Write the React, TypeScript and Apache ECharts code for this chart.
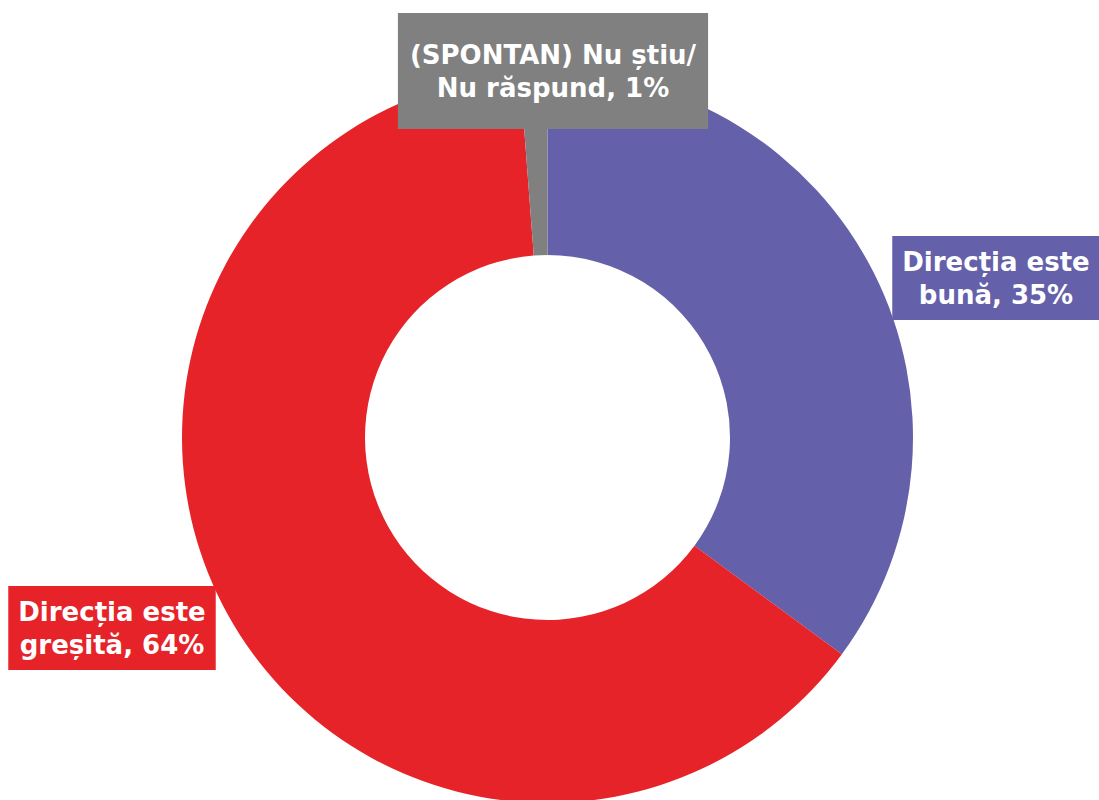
import React, { useEffect, useRef } from "react";
import * as echarts from "echarts";

const categories = [
  "Direcția este bună",
  "Direcția este greșită",
  "(SPONTAN) Nu știu/ Nu răspund",
];
const values = [35.1, 63.7, 1.2];
const labelTexts = [
  "Direcția este\nbună, {v}%",
  "Direcția este\ngreșită, {v}%",
  "(SPONTAN) Nu știu/\nNu răspund, {v}%",
];
const colors = ["#6560AA", "#E62329", "#808080"];

export default function App() {
  const ref = useRef<HTMLDivElement>(null);
  useEffect(() => {
    if (!ref.current) return;
    const chart = echarts.init(ref.current, null, { renderer: "svg" });
    const labelPos = [
      { x: 996, y: 278 },
      { x: 112, y: 628 },
      { x: 553, y: 71 },
    ];
    const paddings = [
      [9, 10, 9, 10],
      [9, 10, 9, 10],
      [25, 12, 25, 12],
    ];
    chart.setOption({
      animation: false,
      backgroundColor: "#ffffff",
      series: [
        {
          type: "pie",
          center: [547.5, 437.5],
          radius: [182.5, 365.5],
          startAngle: 90,
          clockwise: true,
          avoidLabelOverlap: false,
          silent: true,
          labelLine: { show: false },
          itemStyle: { borderWidth: 0 },
          data: categories.map((name, i) => ({
            name,
            value: values[i],
            itemStyle: { color: colors[i] },
            label: {
              show: true,
              formatter: labelTexts[i].replace("{v}", String(Math.round(values[i]))),
              backgroundColor: colors[i],
              padding: paddings[i],
              color: "#ffffff",
              fontFamily: "DejaVu Sans",
              fontWeight: "bold",
              fontSize: 26,
              lineHeight: 33,
              align: "center",
            },
          })),
          labelLayout: (params: any) => {
            const p = labelPos[params.dataIndex];
            return { x: p.x, y: p.y, align: "center", verticalAlign: "middle" };
          },
        },
      ],
    });
    return () => chart.dispose();
  }, []);
  return (
    <div
      ref={ref}
      style={{ position: "fixed", left: 0, top: 0, width: 1099, height: 800 }}
    />
  );
}
